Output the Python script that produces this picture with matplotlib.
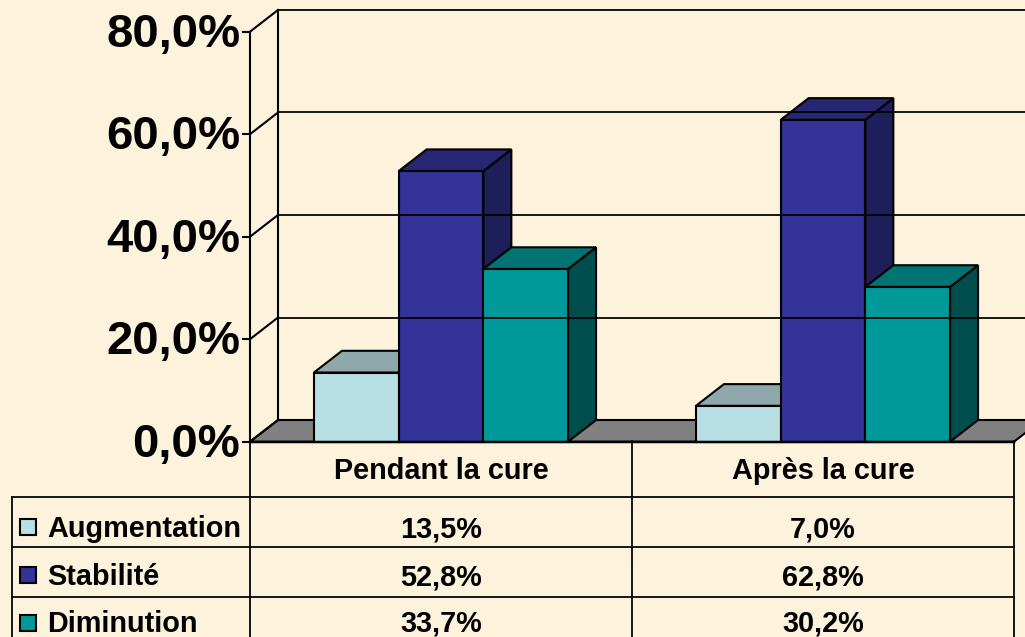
import matplotlib
matplotlib.use("Agg")
import matplotlib.pyplot as plt
from matplotlib.patches import Polygon, Rectangle
from matplotlib.transforms import ScaledTranslation

plt.rcParams['font.family'] = ['Liberation Sans', 'DejaVu Sans']
plt.rcParams['font.weight'] = 'bold'

categories = ["Pendant la cure", "Après la cure"]
series_names = ["Augmentation", "Stabilité", "Diminution"]
augmentation = [13.5, 7.0]
stabilite = [52.8, 62.8]
diminution = [33.7, 30.2]
y_ticks = [0, 20, 40, 60, 80]
y_labels = ["0,0%", "20,0%", "40,0%", "60,0%", "80,0%"]

W, H = 1025, 637
BG = '#FDF2DC'
front_colors = ['#B8E0E4', '#333399', '#009999']
top_colors = ['#8FA8AC', '#262673', '#007373']
side_colors = ['#6E8A8E', '#1E1E5A', '#004D4D']
LW = 1.5


def fmt(v):
    return f"{v:.1f}".replace('.', ',') + "%"


fig = plt.figure(figsize=(W / 100, H / 100), dpi=100, facecolor=BG)

# chart axes: x in category units, y in percent
ax = fig.add_axes([250 / W, 1 - 441.7 / H, 764 / W, 410 / H], facecolor='none')
ax.set_xlim(0, 2)
ax.set_ylim(0, 80)
dx = 28 / 382
dy = 21.7 / 5.125
bar_w = 84.7 / 382

# floor
ax.add_patch(Polygon([(0, 0), (dx, dy), (2 + dx, dy), (2, 0)], closed=True,
                     facecolor='#808080', edgecolor='black', lw=LW, clip_on=False))
# back wall and gridlines
ax.plot([dx, dx], [dy, 80 + dy], color='black', lw=LW, clip_on=False)
for t in y_ticks:
    ax.plot([0, dx], [t, t + dy], color='black', lw=LW, clip_on=False)
    if t > 0:
        ax.plot([dx, 2 + dx], [t + dy, t + dy], color='black', lw=LW * 0.85, clip_on=False)

# bars, left to right so that the later front faces cover earlier sides
all_series = [augmentation, stabilite, diminution]
for g in range(len(categories)):
    for s, values in enumerate(all_series):
        v = values[g]
        x0 = g + 0.5 + (s - 1.5) * bar_w
        x1 = x0 + bar_w
        ax.add_patch(Polygon([(x1, 0), (x1 + dx, dy), (x1 + dx, v + dy), (x1, v)],
                             facecolor=side_colors[s], edgecolor='black', lw=LW, clip_on=False))
        ax.add_patch(Polygon([(x0, v), (x0 + dx, v + dy), (x1 + dx, v + dy), (x1, v)],
                             facecolor=top_colors[s], edgecolor='black', lw=LW, clip_on=False))
        ax.bar(x0, v, width=bar_w, align='edge', color=front_colors[s],
               edgecolor='black', lw=LW, clip_on=False)

ax.set_xticks([])
ax.set_yticks(y_ticks)
ax.set_yticklabels(y_labels, fontsize=34, fontweight='bold')
ax.tick_params(axis='y', length=6, width=LW, pad=1)
# labels sit a little above their ticks
lift = ScaledTranslation(0, 2 / 100, fig.dpi_scale_trans)
for lab in ax.get_yticklabels():
    lab.set_transform(lab.get_transform() + lift)
for name in ['top', 'right', 'bottom']:
    ax.spines[name].set_visible(False)
ax.spines['left'].set_linewidth(LW)

# data table below the chart, laid out in pixels
tab = fig.add_axes([0, 0, 1, 1], facecolor='none')
tab.set_xlim(0, W)
tab.set_ylim(H, 0)
tab.axis('off')

rows_y = [497, 547, 596.5]
col_x = [250, 632, 1014]
text_y = [529, 577, 624]
head_y = 471
swatch_y = [519, 567, 615]
FS = 20.8

tab.plot([250, 1014], [441.7, 441.7], color='black', lw=LW * 1.2)
for y in rows_y:
    tab.plot([12, 1014], [y, y], color='black', lw=LW * 0.85)
for x in col_x:
    tab.plot([x, x], [441, H], color='black', lw=LW * 0.85)
tab.plot([12, 12], [497, H], color='black', lw=LW * 0.85)

for g, cat in enumerate(categories):
    cx = (col_x[g] + col_x[g + 1]) / 2
    tab.text(cx, head_y, cat, ha='center', va='center', fontsize=FS, fontweight='bold')
    for s, values in enumerate(all_series):
        tab.text(cx, text_y[s], fmt(values[g]), ha='center', va='center',
                 fontsize=FS, fontweight='bold')

for s, name in enumerate(series_names):
    tab.add_patch(Rectangle((20, swatch_y[s]), 16, 16, facecolor=front_colors[s],
                            edgecolor='black', lw=LW))
    tab.text(47, text_y[s], name, ha='left', va='center', fontsize=FS, fontweight='bold')

fig.savefig("out.png", dpi=100, facecolor=BG)
